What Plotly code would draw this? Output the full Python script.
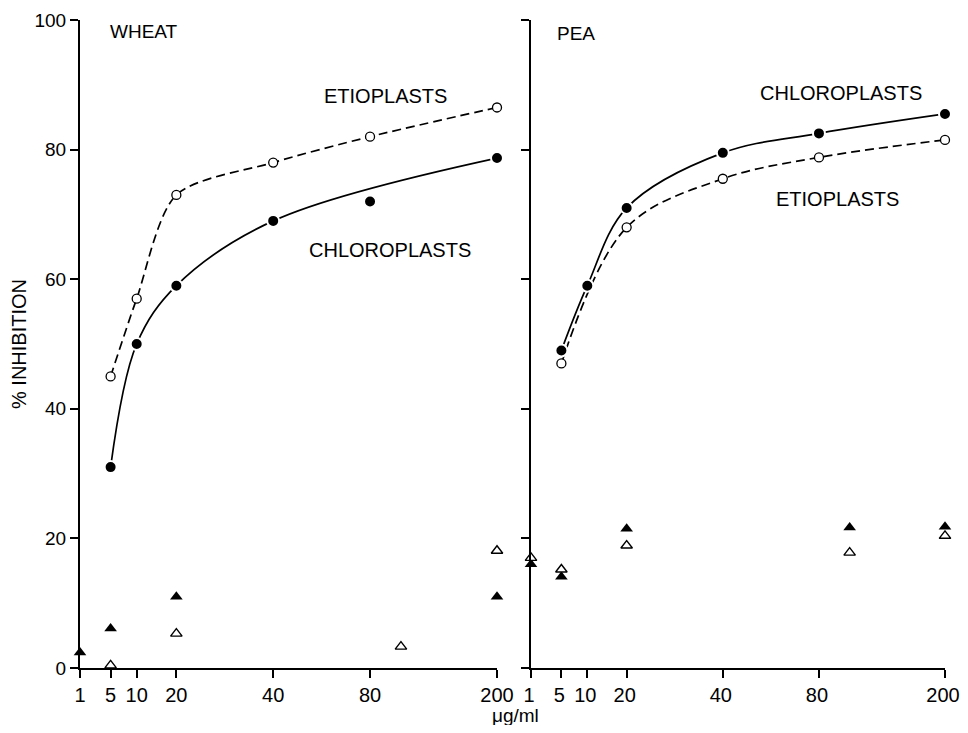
import numpy as np
import plotly.graph_objects as go

# ---- axis scale (concentration ticks and their positions on the drawn axis) ----
tick_conc = [1, 5, 10, 20, 40, 80, 200]
tick_labels = ["1", "5", "10", "20", "40", "80", "200"]
tick_pos = [0, 30.5, 56.5, 96, 192.5, 289, 415.5]

def pos(c):
    return list(np.interp(np.log(np.array(c, dtype=float)), np.log(tick_conc), tick_pos))

# ---- WHEAT ----
wheat_etio_x = [5, 10, 20, 40, 80, 200]
wheat_etio_y = [45, 57, 73, 78, 82, 86.5]
wheat_chloro_x = [5, 10, 20, 40, 80, 200]
wheat_chloro_y = [31, 50, 59, 69, 72, 78.7]
wheat_chloro_curve_x = [5, 10, 20, 40, 200]
wheat_chloro_curve_y = [31, 50, 59, 69, 78.7]
wheat_tri_filled_x = [1, 5, 20, 200]
wheat_tri_filled_y = [2.4, 6.1, 11, 11]
wheat_tri_open_x = [5, 20, 100, 200]
wheat_tri_open_y = [0.4, 5.3, 3.3, 18.1]

# ---- PEA ----
pea_chloro_x = [5, 10, 20, 40, 80, 200]
pea_chloro_y = [49, 59, 71, 79.5, 82.5, 85.5]
pea_etio_x = [5, 20, 40, 80, 200]
pea_etio_y = [47, 68, 75.5, 78.8, 81.5]
pea_tri_filled_x = [1, 5, 20, 100, 200]
pea_tri_filled_y = [16, 14.1, 21.5, 21.7, 21.8]
pea_tri_open_x = [1, 5, 20, 100, 200]
pea_tri_open_y = [17, 15.2, 18.9, 17.8, 20.4]

# page has an 8px body margin; positions below are given in window pixels
OFF = 8
W, H = 968 - 2 * OFF, 733 - 2 * OFF
T = 20 - OFF
B = (OFF + H) - 668
PH = H - T - B

def px(x):
    return (x - OFF) / W

def py(y):
    return (668 - y) / PH

FONT = "Liberation Sans"
LW = 1.7

fig = go.Figure()

def line(xs, ys, dash, ax, smoothing=1.0):
    fig.add_trace(go.Scatter(x=pos(xs), y=ys, mode="lines",
                             line=dict(color="black", width=LW, dash=dash, shape="spline", smoothing=smoothing),
                             xaxis=ax[0], yaxis=ax[1], showlegend=False, hoverinfo="skip"))

def marks(xs, ys, kind, ax):
    if kind == "fc":
        m = dict(symbol="circle", size=12, color="black", line=dict(color="white", width=2))
    elif kind == "oc":
        m = dict(symbol="circle", size=9, color="white", line=dict(color="black", width=1.3))
    elif kind == "ft":
        m = dict(symbol="triangle-up", size=11, color="black", line=dict(color="black", width=0))
    else:
        m = dict(symbol="triangle-up", size=10, color="white", line=dict(color="black", width=1.4))
    fig.add_trace(go.Scatter(x=pos(xs), y=ys, mode="markers", marker=m, cliponaxis=False,
                             xaxis=ax[0], yaxis=ax[1], showlegend=False))

A1 = ("x", "y")
A2 = ("x2", "y2")

line(wheat_etio_x, wheat_etio_y, "9px,5px", A1, smoothing=0.8)
line(wheat_chloro_curve_x, wheat_chloro_curve_y, "solid", A1)
marks(wheat_etio_x, wheat_etio_y, "oc", A1)
marks(wheat_chloro_x, wheat_chloro_y, "fc", A1)
marks(wheat_tri_filled_x, wheat_tri_filled_y, "ft", A1)
marks(wheat_tri_open_x, wheat_tri_open_y, "ot", A1)

line(pea_etio_x, pea_etio_y, "9px,5px", A2)
line(pea_chloro_x, pea_chloro_y, "solid", A2)
marks(pea_etio_x, pea_etio_y, "oc", A2)
marks(pea_chloro_x, pea_chloro_y, "fc", A2)
marks(pea_tri_filled_x, pea_tri_filled_y, "ft", A2)
marks(pea_tri_open_x, pea_tri_open_y, "ot", A2)

xcommon = dict(range=[0, 415.5], tickmode="array", tickvals=tick_pos, ticktext=tick_labels,
               showline=True, linecolor="black", linewidth=2, ticks="outside", ticklen=8,
               tickwidth=2, tickcolor="black", showgrid=False, zeroline=False, automargin=False,
               ticklabeloverflow="allow",
               tickfont=dict(family=FONT, size=20, color="black"))
ycommon = dict(range=[0, 100], tickmode="array", tickvals=[0, 20, 40, 60, 80, 100],
               showline=True, linecolor="black", linewidth=2, ticks="outside", ticklen=8,
               tickwidth=2, tickcolor="black", showgrid=False, zeroline=False, automargin=False,
               tickfont=dict(family=FONT, size=19, color="black"))

fig.update_layout(
    width=W, height=H,
    margin=dict(l=0, r=0, t=T, b=B, autoexpand=False),
    plot_bgcolor="white", paper_bgcolor="white",
    xaxis=dict(domain=[px(80), px(497)], anchor="y", **xcommon),
    yaxis=dict(domain=[0, 1], anchor="x", ticktext=["0", "20", "40", "60", "80", "100"], **ycommon),
    xaxis2=dict(domain=[px(531), px(945)], anchor="y2", ticklabelshift=-2, **xcommon),
    yaxis2=dict(domain=[0, 1], anchor="x2", showticklabels=False, **ycommon),
)

def label(text, x, y, size=20, angle=0):
    fig.add_annotation(text=text, x=px(x), y=py(y), xref="paper", yref="paper",
                       showarrow=False, textangle=angle, xanchor="center", yanchor="middle",
                       font=dict(family=FONT, size=size, color="black"))

label("WHEAT", 144, 32, 19)
label("PEA", 576, 34, 19)
label("ETIOPLASTS", 385, 96)
label("CHLOROPLASTS", 390, 250)
label("CHLOROPLASTS", 841, 93)
label("ETIOPLASTS", 837, 199)
label("% INHIBITION", 19, 344, 20, -90)
label("μg/ml", 515, 715, 19)

fig.write_html("out.html")
